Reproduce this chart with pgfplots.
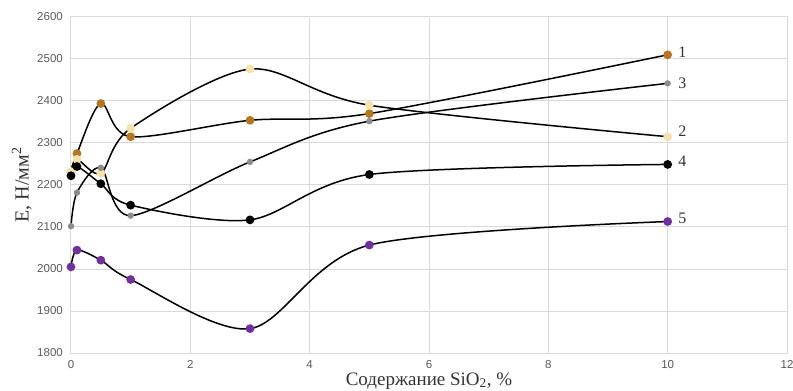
\documentclass[border=0pt]{standalone}
\usepackage{fontspec}
\setmainfont{Liberation Serif}
\newfontfamily\tickfont{Liberation Sans}
\usepackage{pgfplots}
\pgfplotsset{compat=1.18}
\definecolor{cbrown}{HTML}{B5761F}
\definecolor{cyellow}{HTML}{F3E2A9}
\definecolor{cgrey}{HTML}{8C8C8C}
\definecolor{cpurple}{HTML}{7030A0}
\definecolor{gridc}{HTML}{D9D9D9}
\definecolor{tickc}{HTML}{595959}
\begin{document}
\begin{tikzpicture}
\path[use as bounding box] (-71pt,-38pt) rectangle (722pt,353pt);
\begin{axis}[
  scale only axis,
  width=716pt, height=336pt,
  xmin=0, xmax=12, ymin=1800, ymax=2600,
  xtick={0,2,4,6,8,10,12},
  ytick={1800,1900,2000,2100,2200,2300,2400,2500,2600},
  grid=major,
  major grid style={gridc, line width=1pt},
  axis line style={gridc, line width=1pt},
  major tick length=0pt,
  tick label style={font=\fontsize{11.5}{13}\tickfont, text=tickc, inner sep=1pt},
  xticklabel style={yshift=-6pt},
  yticklabel style={xshift=-7pt},
  /pgf/number format/assume math mode=true,
  /pgf/number format/1000 sep={},
  xlabel={Содержание SiO\textsubscript{2}, \%},
  ylabel={E, Н/мм\textsuperscript{2}},
  xlabel style={font=\fontsize{19}{21}\selectfont, text=black!80, inner sep=0pt,
    at={(axis description cs:0.5,0)}, anchor=base, yshift=-32pt},
  ylabel style={font=\fontsize{20}{22}\selectfont, text=black!80, yshift=1pt},
  every axis plot/.append style={black, line width=1.5pt, smooth, mark=*},
  clip=false,
]
\addplot[mark options={fill=cbrown, draw=cbrown}, mark size=3.6pt] coordinates {
 (0,2230) (0.1,2275) (0.5,2394) (1,2315) (3,2354) (5,2370) (10,2510)};
\addplot[mark options={fill=cyellow, draw=cyellow}, mark size=3.6pt] coordinates {
 (0,2232) (0.1,2261) (0.5,2228) (1,2335) (3,2476) (5,2390) (10,2315)};
\addplot[mark options={fill=cgrey, draw=cgrey}, mark size=2.4pt] coordinates {
 (0,2102) (0.1,2182) (0.5,2241) (1,2127) (3,2255) (5,2352) (10,2442)};
\addplot[mark options={fill=black, draw=black}, mark size=3.6pt] coordinates {
 (0,2222) (0.1,2244) (0.5,2203) (1,2152) (3,2117) (5,2225) (10,2249)};
\addplot[mark options={fill=cpurple, draw=cpurple}, mark size=3.6pt] coordinates {
 (0,2005) (0.1,2045) (0.5,2021) (1,1975) (3,1858) (5,2057) (10,2113)};
\begin{scope}[font=\fontsize{16}{18}\selectfont, text=black!80]
\node[anchor=west] at (axis cs:10.12,2517) {1};
\node[anchor=west] at (axis cs:10.12,2443) {3};
\node[anchor=west] at (axis cs:10.12,2329) {2};
\node[anchor=west] at (axis cs:10.12,2257) {4};
\node[anchor=west] at (axis cs:10.12,2121) {5};
\end{scope}
\end{axis}
\end{tikzpicture}
\end{document}
